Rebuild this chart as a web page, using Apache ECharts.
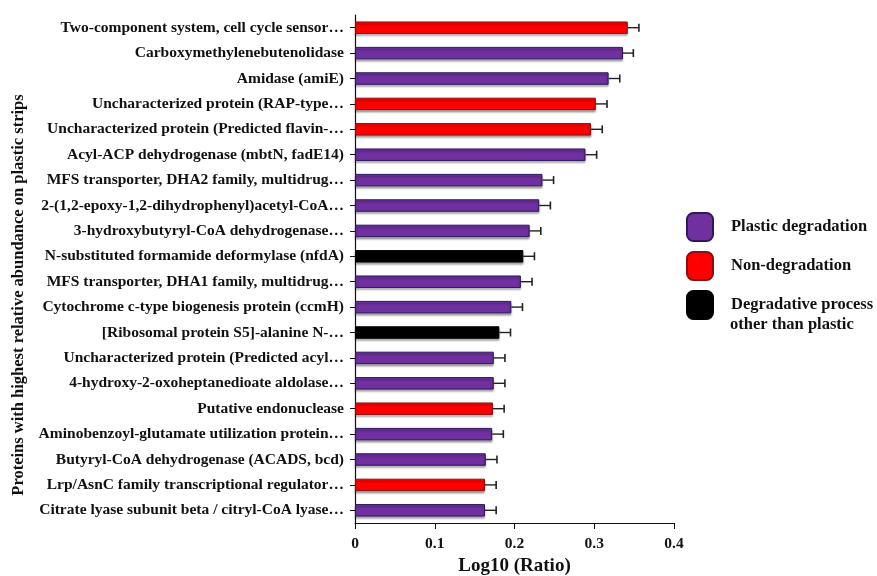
<!DOCTYPE html>
<html>
<head>
<meta charset="utf-8">
<script src="https://cdn.jsdelivr.net/npm/echarts@6/dist/echarts.min.js"></script>
<style>
  html, body { margin: 0; padding: 0; background: #fff; }
  #chart { width: 877px; height: 576px; }
</style>
</head>
<body>
<div id="chart"></div>
<script>
// Proteins, top to bottom
const proteins = [
  'Two-component system, cell cycle sensor…',
  'Carboxymethylenebutenolidase',
  'Amidase (amiE)',
  'Uncharacterized protein (RAP-type…',
  'Uncharacterized protein (Predicted flavin-…',
  'Acyl-ACP dehydrogenase (mbtN, fadE14)',
  'MFS transporter, DHA2 family, multidrug…',
  '2-(1,2-epoxy-1,2-dihydrophenyl)acetyl-CoA…',
  '3-hydroxybutyryl-CoA dehydrogenase…',
  'N-substituted formamide deformylase (nfdA)',
  'MFS transporter, DHA1 family, multidrug…',
  'Cytochrome c-type biogenesis protein (ccmH)',
  '[Ribosomal protein S5]-alanine N-…',
  'Uncharacterized protein (Predicted acyl…',
  '4-hydroxy-2-oxoheptanedioate aldolase…',
  'Putative endonuclease',
  'Aminobenzoyl-glutamate utilization protein…',
  'Butyryl-CoA dehydrogenase (ACADS, bcd)',
  'Lrp/AsnC family transcriptional regulator…',
  'Citrate lyase subunit beta / citryl-CoA lyase…'
];

// Log10 (Ratio) per protein
const log10Ratio = [
  0.342, 0.336, 0.318, 0.302, 0.296, 0.289, 0.235, 0.231, 0.219, 0.211,
  0.208, 0.196, 0.181, 0.174, 0.174, 0.173, 0.172, 0.164, 0.163, 0.163
];

// Error (upper) per protein
const errorUp = [
  0.014, 0.013, 0.014, 0.014, 0.014, 0.014, 0.014, 0.014, 0.014, 0.014,
  0.014, 0.014, 0.014, 0.014, 0.014, 0.014, 0.014, 0.014, 0.014, 0.014
];

// Functional group of each protein: 0 plastic degradation, 1 non-degradation, 2 other degradative process
const groupOf = [1, 0, 0, 1, 1, 0, 0, 0, 0, 2, 0, 0, 2, 0, 0, 1, 0, 0, 1, 0];

const groupNames = ['Plastic degradation', 'Non-degradation', 'Degradative process'];
const groupNameTail = 'other than plastic';
const groupColors = ['#7030A0', '#FF0000', '#000000'];
const groupBorders = ['#2E1660', '#8A1010', '#000000'];

const xTicks = [0, 0.1, 0.2, 0.3, 0.4];

const serif = '"Liberation Serif", "Times New Roman", serif';

const barSeries = groupNames.map((name, g) => ({
  name: name,
  type: 'bar',
  stack: 'all',
  barWidth: '49%',
  data: log10Ratio.map((v, i) => (groupOf[i] === g ? v : '-')),
  itemStyle: {
    color: groupColors[g],
    borderColor: groupBorders[g],
    borderWidth: 1,
    shadowColor: 'rgba(0,0,0,0.35)',
    shadowBlur: 2,
    shadowOffsetY: 2
  },
  z: 2
}));

const errorSeries = {
  type: 'custom',
  name: 'error',
  data: log10Ratio.map((v, i) => [v, i, v + errorUp[i]]),
  encode: { x: [0, 2], y: 1 },
  renderItem: function (params, api) {
    const start = api.coord([api.value(0), api.value(1)]);
    const end = api.coord([api.value(2), api.value(1)]);
    const cap = 4;
    return {
      type: 'group',
      children: [
        { type: 'line', shape: { x1: start[0], y1: start[1], x2: end[0], y2: end[1] },
          style: { stroke: '#222', lineWidth: 1.4 } },
        { type: 'line', shape: { x1: end[0], y1: end[1] - cap, x2: end[0], y2: end[1] + cap },
          style: { stroke: '#222', lineWidth: 1.6 } }
      ]
    };
  },
  z: 3,
  silent: true
};

const chart = echarts.init(document.getElementById('chart'));
chart.setOption({
  animation: false,
  backgroundColor: '#fff',
  grid: { left: 355, right: 203, top: 15, bottom: 53, containLabel: false, outerBoundsMode: 'none' },
  legend: {
    data: groupNames,
    orient: 'vertical',
    left: 681,
    top: 207,
    itemWidth: 26,
    itemHeight: 28,
    itemGap: 9,
    icon: 'roundRect',
    selectedMode: false,
    textStyle: {
      fontFamily: serif, fontWeight: 'bold', fontSize: 16.5, color: '#111',
      padding: [0, 0, 0, 13]
    }
  },
  xAxis: {
    type: 'value',
    min: 0,
    max: 0.4,
    interval: 0.1,
    name: 'Log10 (Ratio)',
    nameLocation: 'middle',
    nameGap: 34,
    nameTextStyle: { fontFamily: serif, fontWeight: 'bold', fontSize: 19, color: '#111' },
    splitLine: { show: false },
    axisLine: { show: true, lineStyle: { color: '#111', width: 1.2 } },
    axisTick: { show: true, length: 6, lineStyle: { color: '#111' } },
    axisLabel: {
      fontFamily: serif, fontWeight: 'bold', fontSize: 15.5, color: '#111', margin: 13,
      formatter: function (v) {
        const t = xTicks.find(x => Math.abs(x - v) < 1e-9);
        return t === undefined ? '' : String(t);
      }
    }
  },
  yAxis: {
    type: 'category',
    data: proteins,
    inverse: true,
    axisLine: { show: true, lineStyle: { color: '#111', width: 1.2 } },
    axisTick: { show: true, alignWithLabel: true, length: 5, lineStyle: { color: '#111' } },
    axisLabel: { fontFamily: serif, fontWeight: 'bold', fontSize: 15.5, color: '#111', margin: 11 }
  },
  graphic: [
    {
      type: 'text',
      x: 19,
      y: 295,
      rotation: Math.PI / 2,
      style: {
        text: 'Proteins with highest relative abundance on plastic strips',
        fontFamily: serif, fontWeight: 'bold', fontSize: 16.5, fill: '#111',
        align: 'center', verticalAlign: 'middle'
      }
    },
    {
      // second line of the third legend entry
      type: 'text',
      x: 730,
      y: 325,
      style: {
        text: groupNameTail,
        fontFamily: serif, fontWeight: 'bold', fontSize: 16.5, fill: '#111',
        align: 'left', verticalAlign: 'middle'
      }
    }
  ],
  series: barSeries.concat([errorSeries])
});
</script>
</body>
</html>
